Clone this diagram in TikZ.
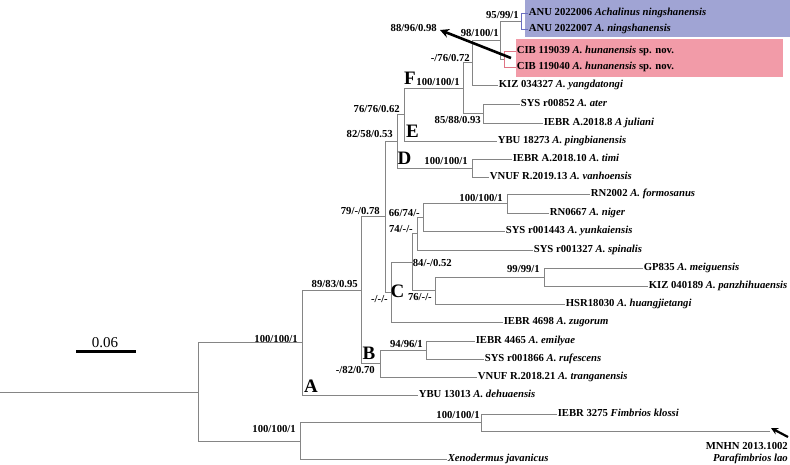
\documentclass[tikz,border=0pt]{standalone}
\usepackage{fontspec}
\setmainfont{Liberation Serif}
\usetikzlibrary{arrows.meta}
\definecolor{boxblue}{HTML}{A0A4D4}
\definecolor{boxpink}{HTML}{F29BA8}
\definecolor{lineblue}{HTML}{6A6FC0}
\definecolor{linepink}{HTML}{E07585}
\begin{document}
\begin{tikzpicture}[x=1pt,y=-1pt,
  br/.style={draw=black!48, line width=0.8pt},
  brb/.style={draw=lineblue, line width=0.7pt},
  brp/.style={draw=linepink, line width=0.7pt},
  tip/.style={anchor=west, inner sep=0.6pt, font=\fontsize{10.7}{12}\selectfont\bfseries, text height=7.5pt, text depth=2pt},
  sup/.style={anchor=east, inner sep=0pt, font=\fontsize{10.7}{12}\selectfont\bfseries, text height=7.5pt, text depth=0pt},
  clade/.style={inner sep=0pt, font=\fontsize{19}{20}\selectfont\bfseries},
  bigarrow/.style={line width=2.6pt, -{Stealth[length=9pt,width=9pt]}},
]
\useasboundingbox (0,0) rectangle (790,464);
\fill[white] (0,0) rectangle (790,464);
% coloured boxes
\fill[boxblue] (525,0) rectangle (790,37);
\fill[boxpink] (516,39) rectangle (783,77);

% tips
\node[tip] (t1) at (528,13) {ANU 2022006 \textit{Achalinus ningshanensis}};
\node[tip] (t2) at (528,29) {ANU 2022007 \textit{A. ningshanensis}};
\node[tip] (t3) at (516,51) {CIB 119039 \textit{A. hunanensis} sp. nov.};
\node[tip] (t4) at (516,67) {CIB 119040 \textit{A. hunanensis} sp. nov.};
\node[tip] (t5) at (498,85) {KIZ 034327 \textit{A. yangdatongi}};
\node[tip] (t6) at (520,104) {SYS r00852 \textit{A. ater}};
\node[tip] (t7) at (543,123) {IEBR A.2018.8 \textit{A juliani}};
\node[tip] (t8) at (497,141) {YBU 18273 \textit{A. pingbianensis}};
\node[tip] (t9) at (512,159) {IEBR A.2018.10 \textit{A. timi}};
\node[tip] (t10) at (489,177) {VNUF R.2019.13 \textit{A. vanhoensis}};
\node[tip] (t11) at (590,194) {RN2002 \textit{A. formosanus}};
\node[tip] (t12) at (549,213) {RN0667 \textit{A. niger}};
\node[tip] (t13) at (505,231) {SYS r001443 \textit{A. yunkaiensis}};
\node[tip] (t14) at (533,250) {SYS r001327 \textit{A. spinalis}};
\node[tip] (t15) at (643,268) {GP835 \textit{A. meiguensis}};
\node[tip] (t16) at (648,286) {KIZ 040189 \textit{A. panzhihuaensis}};
\node[tip] (t17) at (565,304) {HSR18030 \textit{A. huangjietangi}};
\node[tip] (t18) at (503,322) {IEBR 4698 \textit{A. zugorum}};
\node[tip] (t19) at (475,341) {IEBR 4465 \textit{A. emilyae}};
\node[tip] (t20) at (484,359) {SYS r001866 \textit{A. rufescens}};
\node[tip] (t21) at (477,377) {VNUF R.2018.21 \textit{A. tranganensis}};
\node[tip] (t22) at (418,395) {YBU 13013 \textit{A. dehuaensis}};
\node[tip] (t23) at (557,414) {IEBR 3275 \textit{Fimbrios klossi}};
\coordinate (t24) at (770,431);
\node[tip] (t25) at (447,459) {\textit{Xenodermus javanicus}};
\node[sup] (mnhn) at (788,446) {MNHN 2013.1002};
\node[sup, text depth=2pt] (para) at (788,459) {\textit{Parafimbrios lao}};

% internal nodes
\coordinate (n95) at (521,21);
\coordinate (n88) at (504,59);
\coordinate (n98) at (500,40);
\coordinate (n76a) at (472,62.5);
\coordinate (n85) at (483,113.5);
\coordinate (nF) at (463,88);
\coordinate (n7676) at (404,114.5);
\coordinate (nD) at (472,168);
\coordinate (n82) at (397,141);
\coordinate (n100fn) at (507,203.5);
\coordinate (n66) at (423,217);
\coordinate (n74) at (417,233.5);
\coordinate (n99) at (544,277);
\coordinate (n76b) at (435,290.5);
\coordinate (n84) at (412,262);
\coordinate (nC) at (391,292);
\coordinate (n79) at (385,216.5);
\coordinate (n94) at (426,350);
\coordinate (nB) at (380,363.5);
\coordinate (n89) at (361,290);
\coordinate (nA) at (302,342.5);
\coordinate (nFim) at (481,422.5);
\coordinate (nX) at (300,441);
\coordinate (root) at (198,392);
\coordinate (rootstart) at (0,392);

% branches
\draw[brb] (n95) |- (t1.west) (n95) |- (t2.west);
\draw[brp] (n88) |- (t3.west) (n88) |- (t4.west);
\draw[br] (n98) |- (n95) (n98) |- (n88);
\draw[br] (n76a) |- (n98) (n76a) |- (t5.west);
\draw[br] (n85) |- (t6.west) (n85) |- (t7.west);
\draw[br] (nF) |- (n76a) (nF) |- (n85);
\draw[br] (n7676) |- (nF) (n7676) |- (t8.west);
\draw[br] (nD) |- (t9.west) (nD) |- (t10.west);
\draw[br] (n82) |- (n7676) (n82) |- (nD);
\draw[br] (n100fn) |- (t11.west) (n100fn) |- (t12.west);
\draw[br] (n66) |- (n100fn) (n66) |- (t13.west);
\draw[br] (n74) |- (n66) (n74) |- (t14.west);
\draw[br] (n99) |- (t15.west) (n99) |- (t16.west);
\draw[br] (n76b) |- (n99) (n76b) |- (t17.west);
\draw[br] (n84) |- (n74) (n84) |- (n76b);
\draw[br] (nC) |- (n84) (nC) |- (t18.west);
\draw[br] (n79) |- (n82) (n79) |- (nC);
\draw[br] (n94) |- (t19.west) (n94) |- (t20.west);
\draw[br] (nB) |- (n94) (nB) |- (t21.west);
\draw[br] (n89) |- (n79) (n89) |- (nB);
\draw[br] (nA) |- (n89) (nA) |- (t22.west);
\draw[br] (nFim) |- (t23.west) (nFim) |- (t24);
\draw[br] (nX) |- (nFim) (nX) |- (t25.west);
\draw[br] (root) |- (nA) (root) |- (nX);
\draw[br] (rootstart) -- (root);

% support values
\node[sup] (l95) at (519,15) {95/99/1};
\node[sup] (l98) at (499,33) {98/100/1};
\node[sup] (l88) at (437,27.5) {88/96/0.98};
\node[sup] (l76a) at (470,57.5) {-/76/0.72};
\node[sup] (lF) at (460,82) {100/100/1};
\node[sup] (l85) at (481,119.5) {85/88/0.93};
\node[sup] (l7676) at (400,109) {76/76/0.62};
\node[sup] (l82) at (393,134) {82/58/0.53};
\node[sup] (lD) at (468,160.5) {100/100/1};
\node[sup] (l100fn) at (503,197.5) {100/100/1};
\node[sup] (l79) at (380,211) {79/-/0.78};
\node[sup] (l66) at (420,212.5) {66/74/-};
\node[sup] (l74) at (413,229) {74/-/-};
\node[sup] (l84) at (452,262.5) {84/-/0.52};
\node[sup] (l99) at (540,269) {99/99/1};
\node[sup] (lC) at (388,298.5) {-/-/-};
\node[sup] (l76b) at (432,297) {76/-/-};
\node[sup] (l89) at (358,284) {89/83/0.95};
\node[sup] (l94) at (423,344) {94/96/1};
\node[sup] (lB) at (375,370) {-/82/0.70};
\node[sup] (lA) at (298,338.5) {100/100/1};
\node[sup] (lFim) at (480,415) {100/100/1};
\node[sup] (lX) at (296,429) {100/100/1};

% clade letters
\node[clade] (cF) at (410,78.5) {F};
\node[clade] (cE) at (412.5,131.5) {E};
\node[clade] (cD) at (404.5,158.5) {D};
\node[clade] (cC) at (397.5,291) {C};
\node[clade] (cB) at (369,353.5) {B};
\node[clade] (cA) at (311,386.5) {A};

% arrows
\coordinate (a1s) at (511,58);
\coordinate (a1e) at (440,30);
\draw[bigarrow] (a1s) -- (a1e);
\coordinate (a2s) at (788,437);
\coordinate (a2e) at (771,428);
\draw[line width=2.2pt, -{Stealth[length=7pt,width=7pt]}] (a2s) -- (a2e);

% scale bar
\coordinate (sb1) at (76,351);
\coordinate (sb2) at (136,351);
\draw[line width=3pt] (sb1) -- (sb2);
\node[inner sep=0pt, font=\fontsize{15}{16}\selectfont] (sbl) at (105,342.5) {0.06};
\end{tikzpicture}
\end{document}
